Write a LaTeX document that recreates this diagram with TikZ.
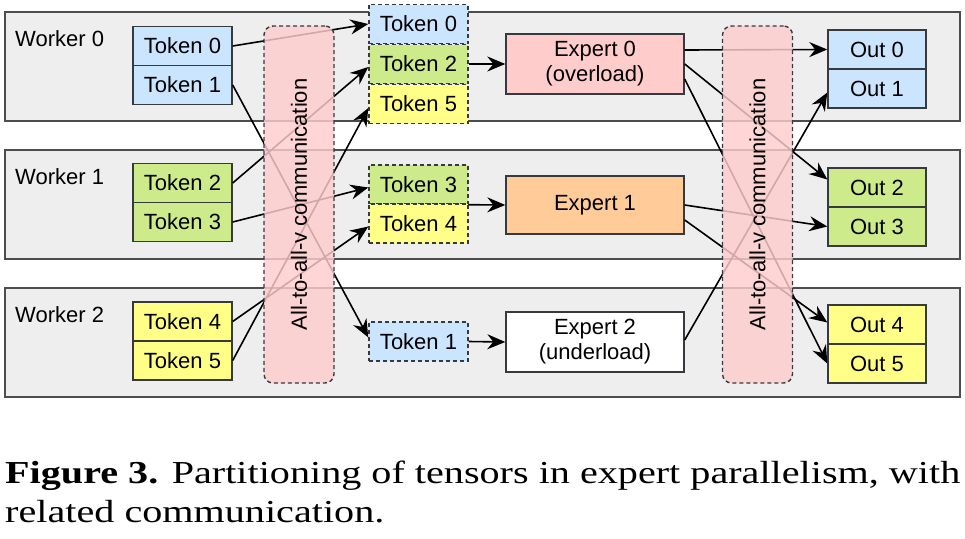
\documentclass[tikz,border=0pt]{standalone}
\usepackage{fontspec}
\newfontfamily\arial{Liberation Sans}
\newfontfamily\capfont{Liberation Serif}
\usetikzlibrary{arrows.meta,calc}
\definecolor{bandfill}{HTML}{EEEEEE}
\definecolor{bandline}{HTML}{4D4D4D}
\definecolor{boxline}{HTML}{36393D}
\definecolor{cblue}{HTML}{CCE5FF}
\definecolor{cgreen}{HTML}{CDEB8B}
\definecolor{cyellow}{HTML}{FFFF88}
\definecolor{cpink}{HTML}{FFCCCC}
\definecolor{corange}{HTML}{FFCC99}
\tikzset{
  band/.style={draw=bandline, fill=bandfill, line width=1.4pt, minimum width=955pt, minimum height=109pt, inner sep=0pt},
  wlabel/.style={anchor=west, inner sep=0pt, font=\arial\fontsize{22}{25}\selectfont},
  tok/.style={draw=boxline, line width=1.4pt, minimum width=99pt, minimum height=39pt, inner sep=0pt, font=\arial\fontsize{22}{25}\selectfont},
  dtok/.style={tok, dashed, dash pattern=on 4pt off 3pt},
  outbox/.style={tok, minimum width=98pt},
  expert/.style={draw=boxline, line width=1.4pt, minimum width=178pt, minimum height=60pt, inner sep=0pt, align=center, font=\arial\fontsize{22}{25}\selectfont},
  a2a/.style={draw=boxline, line width=1.4pt, dashed, dash pattern=on 4pt off 3pt, rounded corners=9pt, fill=cpink, fill opacity=0.82, text opacity=1, minimum width=70pt, minimum height=357pt, inner sep=0pt},
  a2atext/.style={rotate=90, inner sep=0pt, font=\arial\fontsize{22}{25}\selectfont},
  conn/.style={draw=black, line width=1.6pt, arrows={-Stealth[length=18pt,width=15pt,inset=6pt]}},
}
\begin{document}
\begin{tikzpicture}[x=1pt,y=-1pt]
\useasboundingbox (0,0) rectangle (965,538);
% worker bands
\node[band] (w0) at (482.5,66.5) {};
\node[band] (w1) at (482.5,204.5) {};
\node[band] (w2) at (482.5,342.5) {};
\node[wlabel] (l0) at (15,39) {Worker 0};
\node[wlabel] (l1) at (15,177) {Worker 1};
\node[wlabel] (l2) at (15,315) {Worker 2};
% source tokens
\node[tok, fill=cblue] (t0) at (182.5,46) {Token 0};
\node[tok, fill=cblue] (t1) at (182.5,85) {Token 1};
\node[tok, fill=cgreen] (t2) at (182.5,183) {Token 2};
\node[tok, fill=cgreen] (t3) at (182.5,222) {Token 3};
\node[tok, fill=cyellow] (t4) at (182.5,321.5) {Token 4};
\node[tok, fill=cyellow] (t5) at (182.5,360.5) {Token 5};
% dispatched tokens
\node[dtok, fill=cblue] (m0) at (418.5,24) {Token 0};
\node[dtok, fill=cgreen] (m2) at (418.5,64) {Token 2};
\node[dtok, fill=cyellow] (m5) at (418.5,104) {Token 5};
\node[dtok, fill=cgreen] (m3) at (418.5,184.5) {Token 3};
\node[dtok, fill=cyellow] (m4) at (418.5,223.5) {Token 4};
\node[dtok, fill=cblue] (m1) at (418.5,341.5) {Token 1};
% experts
\node[expert, fill=cpink] (e0) at (595,64) {Expert 0\\(overload)};
\node[expert, fill=corange, minimum height=58pt] (e1) at (595,205) {Expert 1};
\node[expert, fill=white] (e2) at (595,342) {Expert 2\\(underload)};
% outputs
\node[outbox, fill=cblue] (o0) at (877,49.5) {Out 0};
\node[outbox, fill=cblue] (o1) at (877,88.5) {Out 1};
\node[outbox, fill=cgreen] (o2) at (877,187.5) {Out 2};
\node[outbox, fill=cgreen] (o3) at (877,226.5) {Out 3};
\node[outbox, fill=cyellow] (o4) at (877,324.5) {Out 4};
\node[outbox, fill=cyellow] (o5) at (877,363.5) {Out 5};
% dispatch connectors
\draw[conn] (t0.east) -- (m0.west);
\draw[conn] (t1.east) -- ([yshift=4pt]m1.west);
\draw[conn] (t2.east) -- ([yshift=-3pt]m2.west);
\draw[conn] (t3.east) -- ([yshift=-3pt]m3.west);
\draw[conn] (t4.east) -- ([yshift=-3pt]m4.west);
\draw[conn] (t5.east) -- ([yshift=-4pt]m5.west);
\draw[conn] (m2.east) -- (e0.west);
\draw[conn] (m3.south east) -- (e1.west);
\draw[conn] (m1.east) -- (e2.west);
% combine connectors
\draw[conn] ([yshift=14pt]e0.east) -- (o0.west);
\draw[conn] (e0.east) -- ([yshift=8pt]o2.west);
\draw[conn] ([yshift=-15pt]e0.east) -- (o5.west);
\draw[conn] (e1.east) -- (o3.west);
\draw[conn] ([yshift=-15pt]e1.east) -- ([yshift=2pt]o4.west);
\draw[conn] ([yshift=2pt]e2.east) -- ([yshift=-4pt]o1.west);
% all-to-all boxes
\node[a2a] (a1) at (299,204.5) {};
\node[a2atext] (a1t) at (a1.center) {All-to-all-v communication};
\node[a2a] (a2) at (757.5,204.5) {};
\node[a2atext] (a2t) at (a2.center) {All-to-all-v communication};
% caption
\node[anchor=base west, inner sep=0pt] (cap) at (5,483) {\capfont\fontsize{32}{39}\selectfont\resizebox{955pt}{\height}{\begin{tabular}[t]{@{}l@{}}\textbf{Figure 3.} Partitioning of tensors in expert parallelism, with\\related communication.\end{tabular}}};
\end{tikzpicture}
\end{document}
